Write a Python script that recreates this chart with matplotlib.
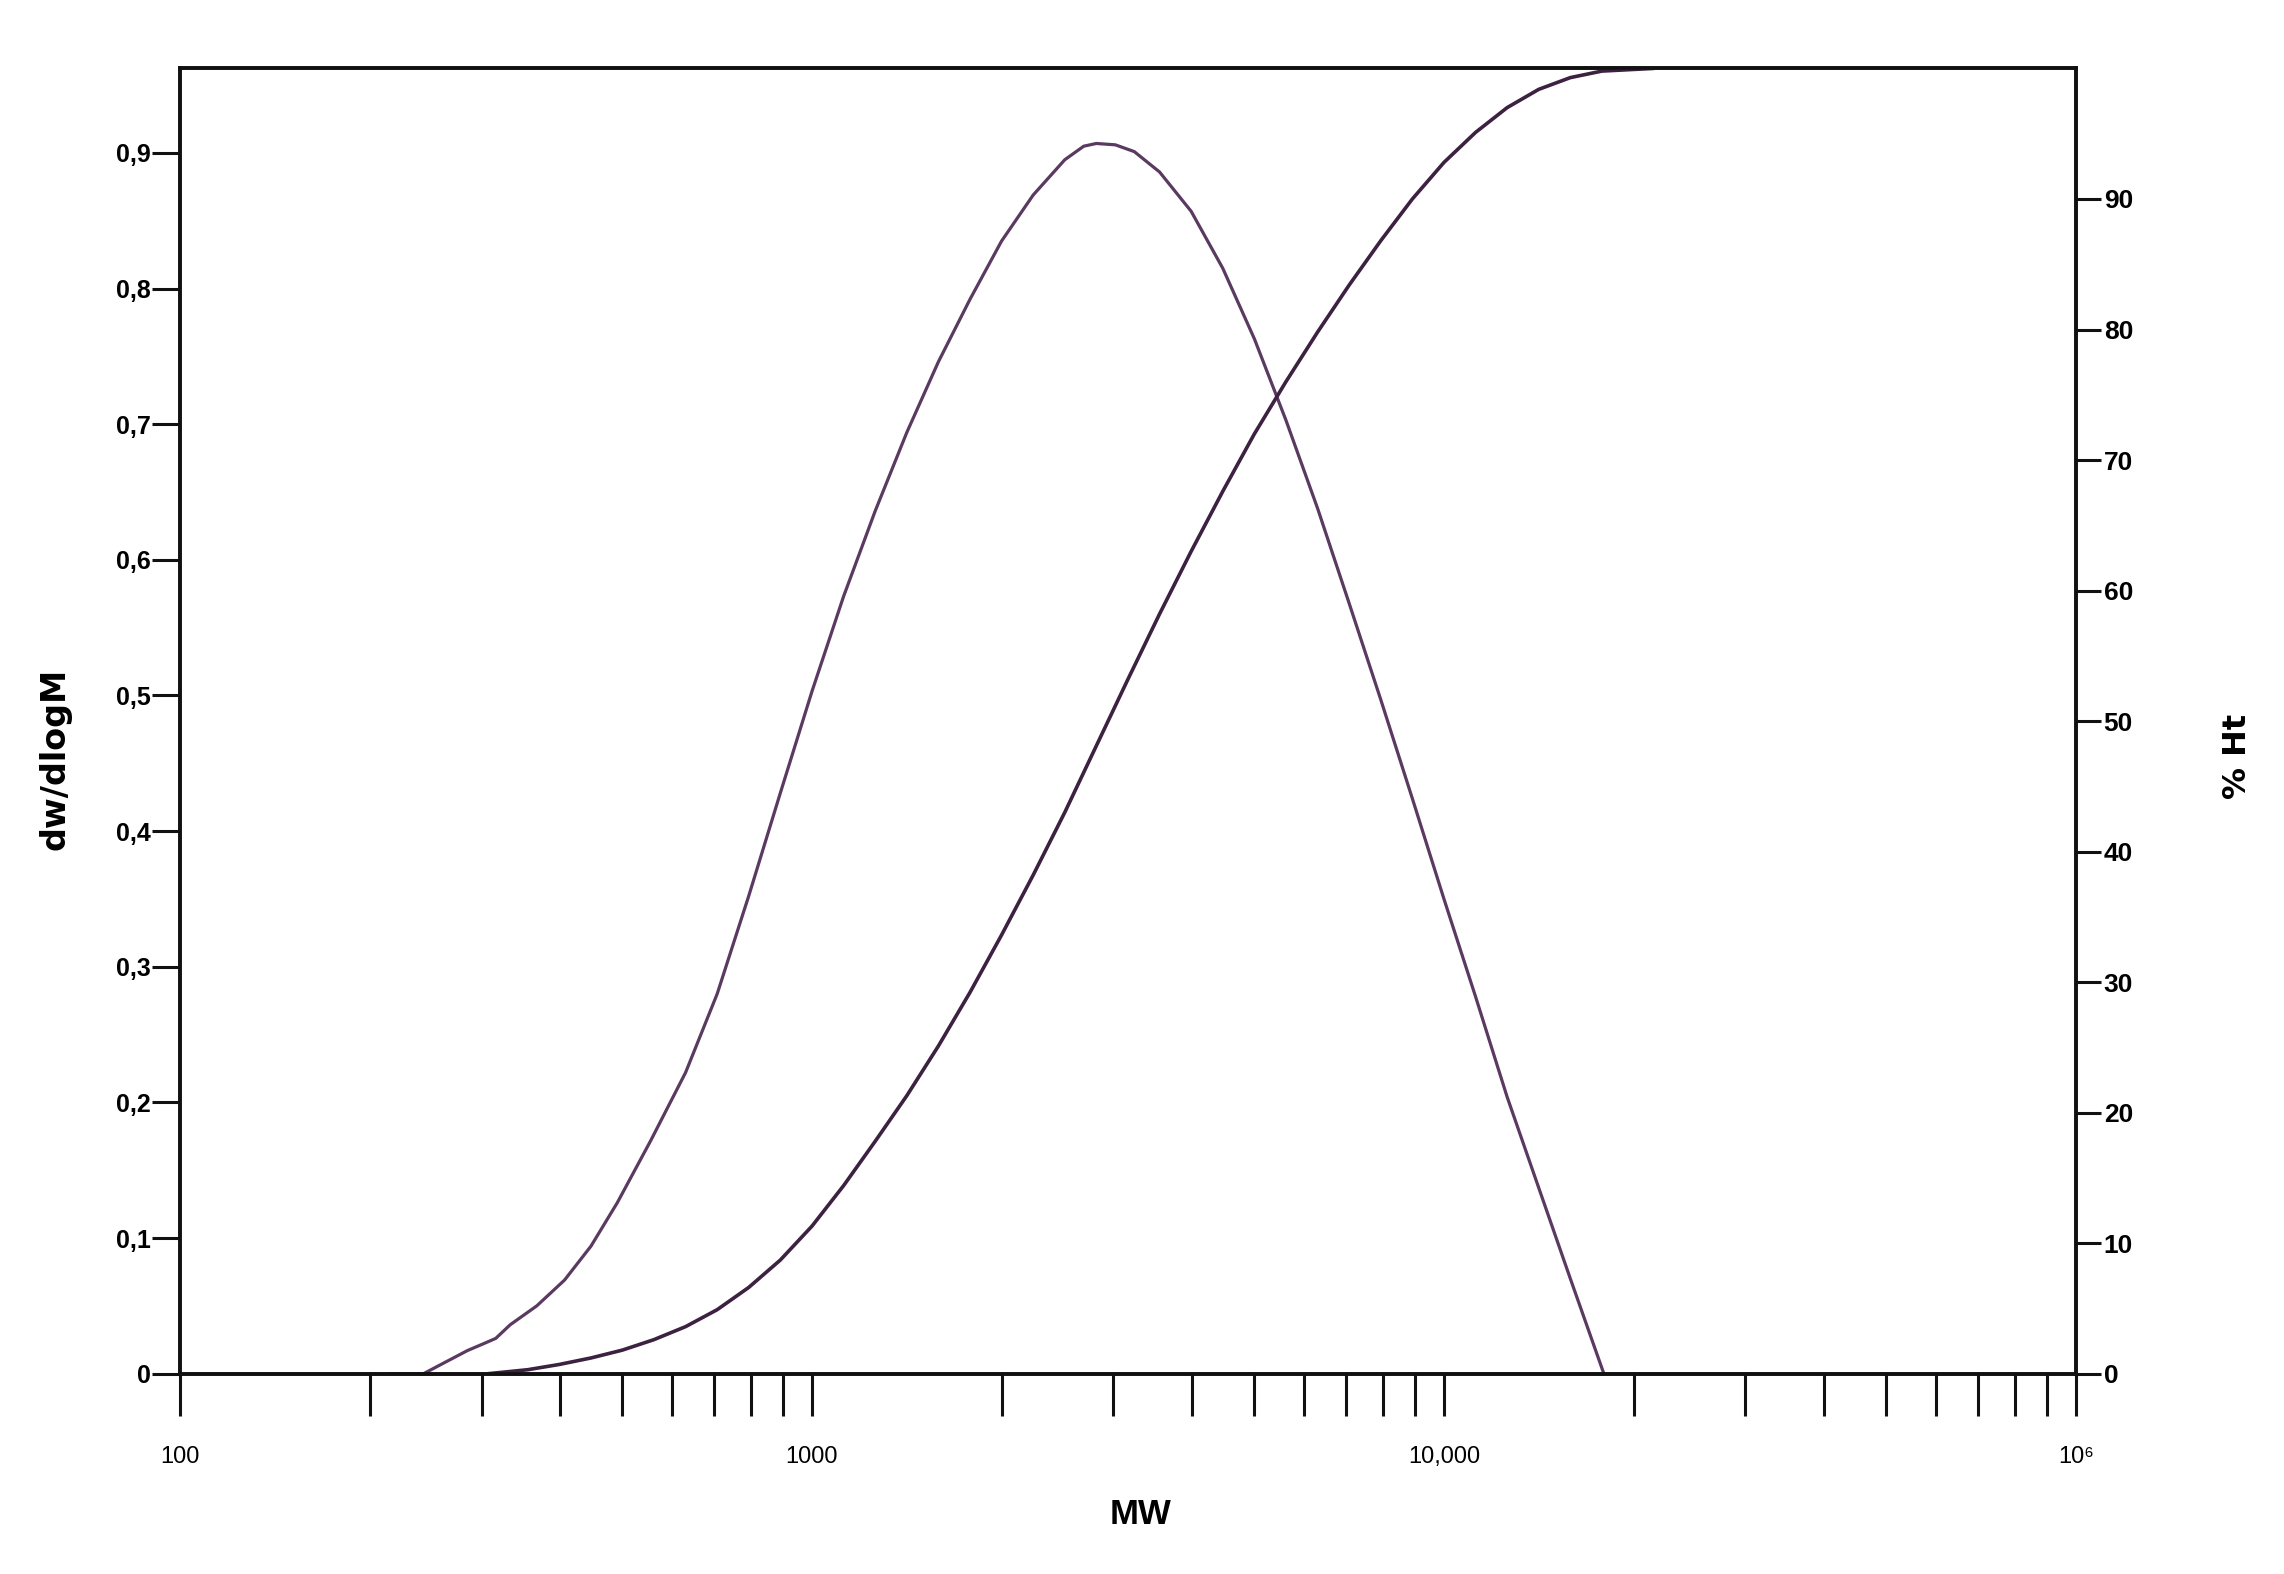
import matplotlib
matplotlib.use('Agg')
import matplotlib.pyplot as plt
from matplotlib.ticker import FixedLocator, FixedFormatter, NullFormatter

# ---- data ----
mw_dist = [216, 243, 257, 285, 302, 316, 333, 367, 406, 447, 492, 556, 631, 708,
           794, 891, 1000, 1122, 1259, 1413, 1585, 1778, 1995, 2239, 2512, 2692,
           2818, 3020, 3236, 3548, 3981, 4467, 5012, 5623, 6310, 7079, 7943, 8913,
           10000, 11220, 12589, 14125, 15849, 17906]
dw_dlogm = [0.000, 0.000, 0.006, 0.017, 0.022, 0.026, 0.036, 0.050, 0.069, 0.094,
            0.126, 0.172, 0.222, 0.280, 0.352, 0.428, 0.503, 0.573, 0.636, 0.694,
            0.746, 0.792, 0.835, 0.869, 0.895, 0.905, 0.907, 0.906, 0.901, 0.886,
            0.857, 0.815, 0.763, 0.703, 0.638, 0.568, 0.497, 0.424, 0.350, 0.278,
            0.204, 0.137, 0.070, 0.000]

mw_cum = [308, 355, 398, 447, 501, 562, 631, 708, 794, 891, 1000, 1122, 1259, 1413,
          1585, 1778, 1995, 2239, 2512, 2818, 3162, 3548, 3981, 4467, 5012, 5623,
          6310, 7079, 7943, 8913, 10000, 11220, 12589, 14125, 15849, 17783, 21380]
pct_ht = [0.0, 0.3, 0.7, 1.2, 1.8, 2.6, 3.6, 4.9, 6.6, 8.7, 11.3, 14.4, 17.8, 21.3,
          25.1, 29.2, 33.6, 38.2, 43.0, 48.1, 53.2, 58.2, 63.0, 67.6, 72.0, 76.0,
          79.8, 83.4, 86.8, 90.0, 92.8, 95.1, 97.0, 98.4, 99.3, 99.8, 100.0]

left_ticks = [0, 0.1, 0.2, 0.3, 0.4, 0.5, 0.6, 0.7, 0.8, 0.9]
left_labels = ['0', '0,1', '0,2', '0,3', '0,4', '0,5', '0,6', '0,7', '0,8', '0,9']
right_ticks = [0, 10, 20, 30, 40, 50, 60, 70, 80, 90]
right_labels = ['0', '10', '20', '30', '40', '50', '60', '70', '80', '90']
x_major = [100, 1000, 10000, 100000]
x_major_labels = ['100', '1000', '10,000', '10⁶']
x_minor = [200, 300, 400, 500, 600, 700, 800, 900,
           2000, 3000, 4000, 5000, 6000, 7000, 8000, 9000,
           20000, 30000, 40000, 50000, 60000, 70000, 80000, 90000]

sans = ['Liberation Sans', 'DejaVu Sans']
wide = ['DejaVu Sans']

fig = plt.figure(figsize=(22.84, 15.74), dpi=100)
ax = fig.add_axes([0.0788, 0.1273, 0.8301, 0.8292])
ax.set_xscale('log')
ax.set_xlim(100, 100000)
ax.set_ylim(0, 0.9623)
ax2 = ax.twinx()
ax2.set_ylim(0, 100)

ax.plot(mw_dist, dw_dlogm, color='#5a3a60', lw=2.3, solid_joinstyle='round')
ax2.plot(mw_cum, pct_ht, color='#3c2141', lw=2.6, solid_joinstyle='round')

for a in (ax, ax2):
    for s in a.spines.values():
        s.set_linewidth(2.6)
        s.set_color('#111111')

ax.xaxis.set_major_locator(FixedLocator(x_major))
ax.xaxis.set_major_formatter(FixedFormatter(x_major_labels))
ax.xaxis.set_minor_locator(FixedLocator(x_minor))
ax.xaxis.set_minor_formatter(NullFormatter())
ax.tick_params(axis='x', which='both', direction='out', length=30, width=2.2,
               color='#111111', pad=22)
for lab in ax.get_xticklabels():
    lab.set_fontfamily(sans)
    lab.set_fontsize(17)

ax.yaxis.set_major_locator(FixedLocator(left_ticks))
ax.yaxis.set_major_formatter(FixedFormatter(left_labels))
ax.tick_params(axis='y', which='major', direction='out', length=20, width=2.2,
               color='#111111', pad=1)
for lab in ax.get_yticklabels():
    lab.set_fontfamily(sans)
    lab.set_fontsize(18)
    lab.set_fontweight('bold')

ax2.yaxis.set_major_locator(FixedLocator(right_ticks))
ax2.yaxis.set_major_formatter(FixedFormatter(right_labels))
ax2.tick_params(axis='y', which='major', direction='out', length=18, width=2.2,
                color='#111111', pad=2)
for lab in ax2.get_yticklabels():
    lab.set_fontfamily(sans)
    lab.set_fontsize(19)
    lab.set_fontweight('bold')

fig.text(55 / 2284, 1 - 759 / 1574, 'dw/dlogM', rotation=90, ha='center', va='center',
         fontsize=24, fontweight='bold', family=wide)
fig.text(2237 / 2284, 1 - 756 / 1574, '% Ht', rotation=90, ha='center', va='center',
         fontsize=23, fontweight='bold', family=wide)
fig.text(1140 / 2284, 1 - 1515 / 1574, 'MW', ha='center', va='center',
         fontsize=25, fontweight='bold', family=sans)

fig.savefig('out.png', dpi=100, facecolor='white')
